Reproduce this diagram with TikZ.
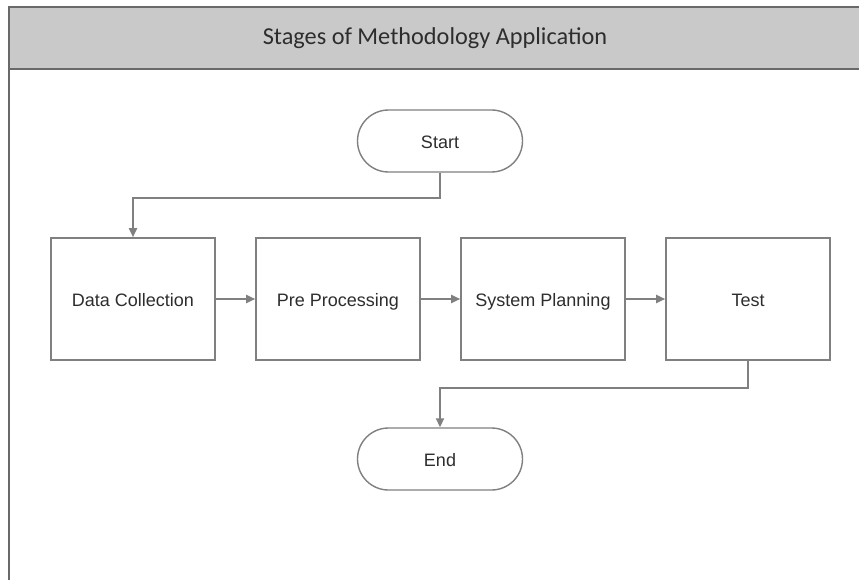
\documentclass[tikz,border=0pt]{standalone}
\usepackage{fontspec}
\setmainfont{Liberation Sans}
\newfontfamily\titlefont{Carlito}
\usetikzlibrary{arrows.meta,positioning}
\definecolor{linegray}{RGB}{128,128,128}
\definecolor{headgray}{RGB}{201,201,201}
\definecolor{framegray}{RGB}{105,105,105}
\definecolor{textgray}{RGB}{45,45,45}

\begin{document}
\begin{tikzpicture}[x=1pt,y=-1pt,
  stage/.style={draw=linegray,line width=1.6pt,minimum width=164pt,minimum height=122pt,inner sep=0pt,
    text height=15pt,text depth=0pt,text=textgray,font=\fontsize{18}{20}\selectfont},
  term/.style={draw=linegray,line width=1.4pt,rounded corners=31pt,minimum width=165pt,minimum height=62pt,inner sep=0pt,
    text height=15pt,text depth=0pt,text=textgray,font=\fontsize{18}{20}\selectfont},
  arr/.style={draw=linegray,line width=1.8pt,-{Triangle[length=9pt,width=8pt]}}]
\useasboundingbox (0,0) rectangle (859,580);
% swimlane frame
\fill[headgray] (9,7) rectangle (859,69);
\draw[framegray,line width=2pt] (859,7) -- (9,7) -- (9,580);
\draw[framegray,line width=2pt] (9,69) -- (859,69);
\node[text=textgray,font=\titlefont\fontsize{24.3}{28}\selectfont] (title) at (435,38) {Stages of Methodology Application};
% nodes
\node[term] (start) at (440,141) {Start};
\node[stage] (dc) at (133,299) {Data Collection};
\node[stage] (pp) at (338,299) {Pre Processing};
\node[stage] (sp) at (543,299) {System Planning};
\node[stage] (test) at (748,299) {Test};
\node[term] (end) at (440,459) {End};
% connectors
\draw[arr] (start.south) -- ++(0,25) -| (dc.north);
\draw[arr] (dc) -- (pp);
\draw[arr] (pp) -- (sp);
\draw[arr] (sp) -- (test);
\draw[arr] (test.south) -- ++(0,27) -| (end.north);
\end{tikzpicture}
\end{document}
